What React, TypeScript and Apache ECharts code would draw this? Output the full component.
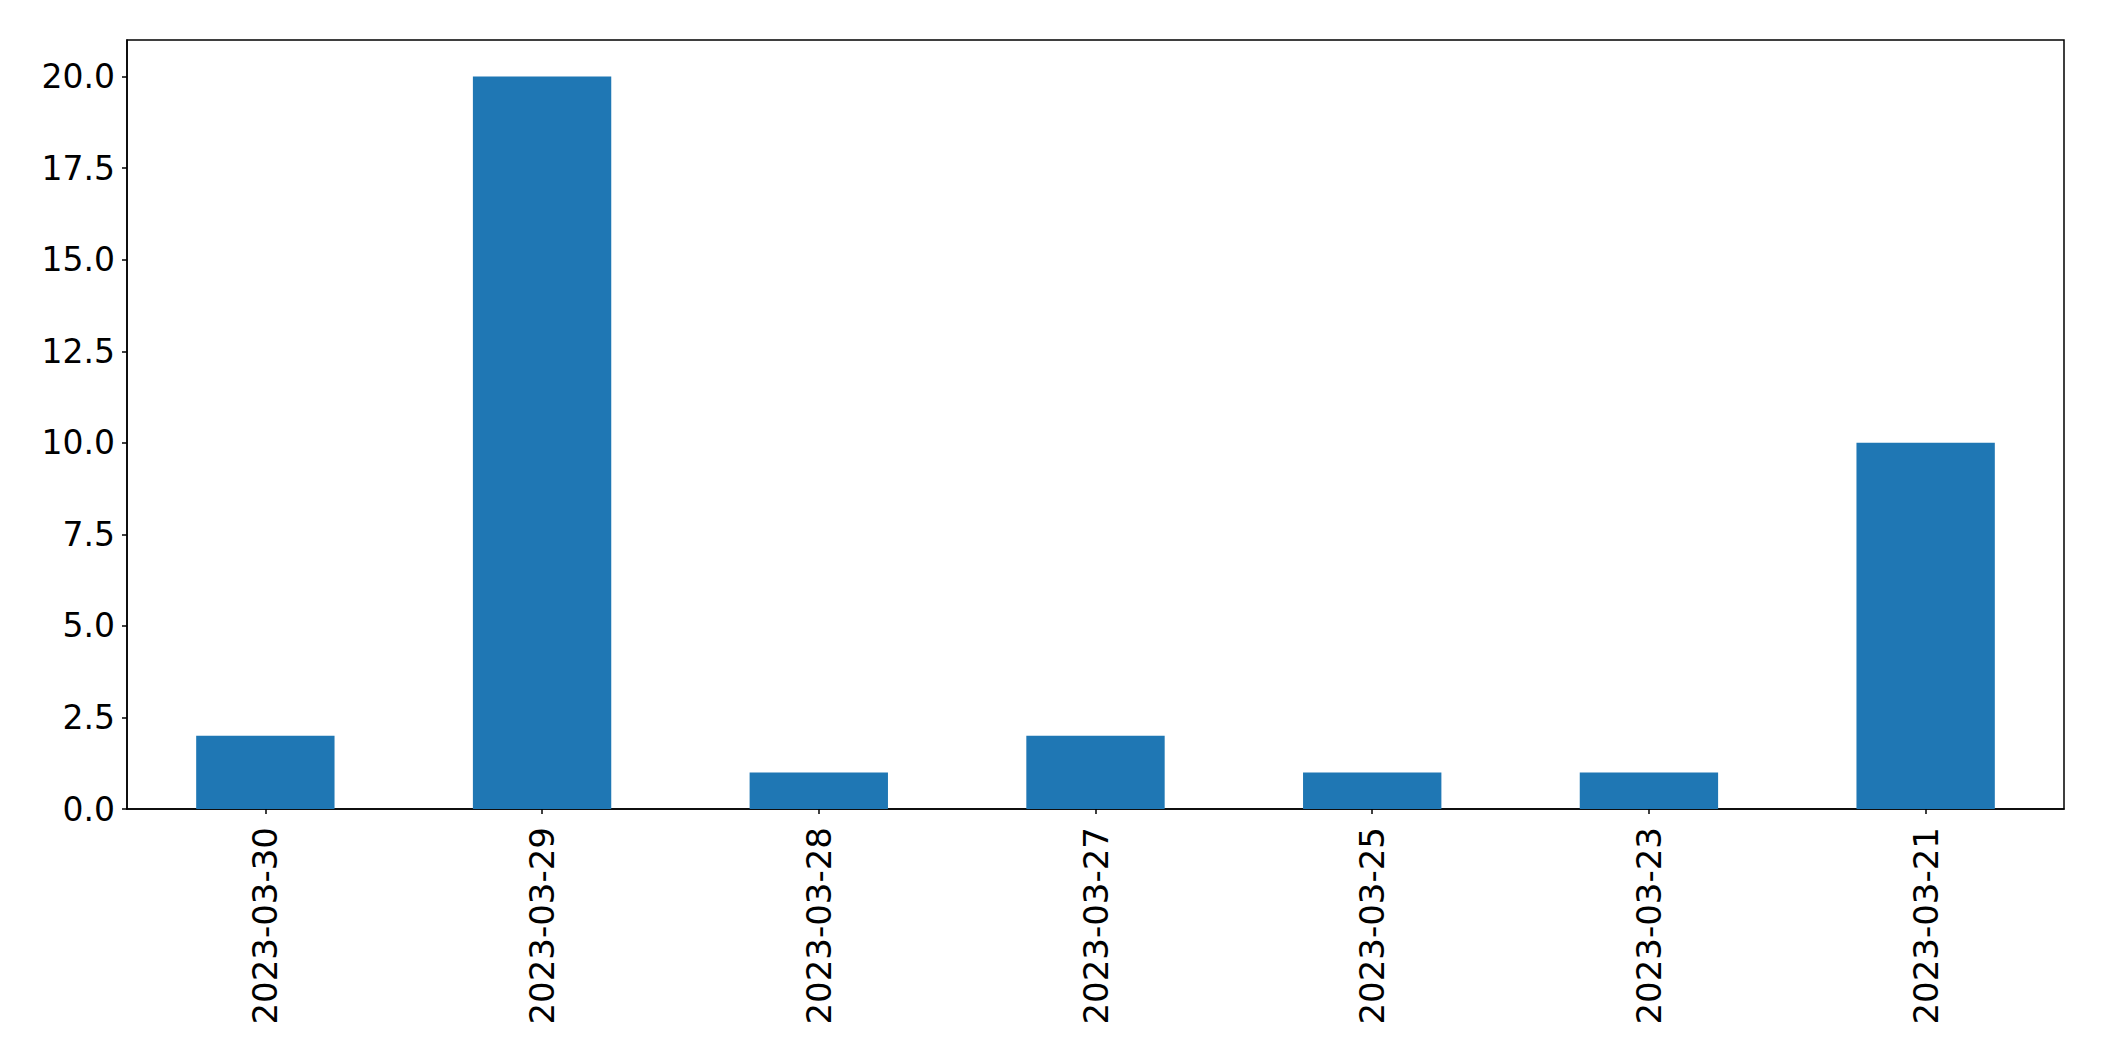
import React, { useEffect, useRef } from "react";
import * as echarts from "echarts";

const categories = ["2023-03-30", "2023-03-29", "2023-03-28", "2023-03-27", "2023-03-25", "2023-03-23", "2023-03-21"];
const counts = [2, 20, 1, 2, 1, 1, 10];
const yMin = 0;
const yMax = 21;
const yStep = 2.5;

export default function App() {
  const ref = useRef<HTMLDivElement>(null);
  useEffect(() => {
    document.body.style.margin = "0";
    const chart = echarts.init(ref.current!, null, { renderer: "svg" });
    const font = "DejaVu Sans";
    chart.setOption({
      animation: false,
      backgroundColor: "#ffffff",
      grid: {
        left: 127,
        right: 40,
        top: 40,
        bottom: 252,
        show: true,
        borderColor: "#000000",
        borderWidth: 1.5,
        containLabel: false,
      },
      xAxis: {
        type: "category",
        data: categories,
        boundaryGap: true,
        axisLine: { show: true, lineStyle: { color: "#000000", width: 1.5 } },
        axisTick: { show: true, alignWithLabel: true, length: 5, lineStyle: { color: "#000000", width: 1.5 } },
        axisLabel: {
          rotate: 90,
          margin: 18,
          color: "#000000",
          fontFamily: font,
          fontSize: 34,
          interval: 0,
        },
        splitLine: { show: false },
      },
      yAxis: {
        type: "value",
        min: yMin,
        max: yMax,
        interval: yStep,
        axisLine: { show: true, lineStyle: { color: "#000000", width: 1.5 } },
        axisTick: { show: true, length: 5, lineStyle: { color: "#000000", width: 1.5 } },
        axisLabel: {
          margin: 12,
          color: "#000000",
          fontFamily: font,
          fontSize: 33,
          showMaxLabel: false,
          formatter: (v: number) => (v > 20.01 ? "" : v.toFixed(1)),
        },
        splitLine: { show: false },
      },
      series: [
        {
          type: "bar",
          data: counts,
          barWidth: "50%",
          itemStyle: { color: "#1f77b4" },
        },
      ],
    });
    return () => chart.dispose();
  }, []);
  return <div ref={ref} style={{ position: "absolute", left: 0, top: 0, width: 2104, height: 1061 }} />;
}
